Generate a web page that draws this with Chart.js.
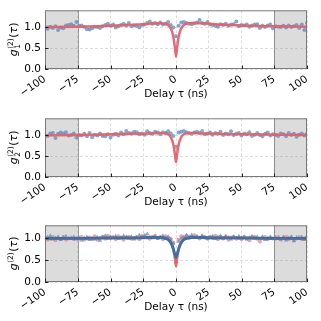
<!DOCTYPE html>
<html>
<head>
<meta charset="utf-8">
<script src="https://cdn.jsdelivr.net/npm/chart.js@4.4.0/dist/chart.umd.min.js"></script>
<style>
  body { margin: 0; background: #fff; }
  .panel { position: absolute; left: 0; width: 321px; }
</style>
</head>
<body>
<div class="panel" style="top:0px;height:107px"><canvas id="c1"></canvas></div>
<div class="panel" style="top:108px;height:107px"><canvas id="c2"></canvas></div>
<div class="panel" style="top:215px;height:105px"><canvas id="c3"></canvas></div>
<script>
// delay axis (ns) for measured points
const tau = [-100,-98,-96,-94,-92,-90,-88,-86,-84,-82,-80,-78,-76,
  -74,-72,-70,-68,-66,-64,-62,-60,-58,-56,-54,-52,-50,
  -48,-46,-44,-42,-40,-38,-36,-34,-32,-30,-28,-26,
  -24,-22,-20,-18,-16,-14,-12,-10,-8,-6,-4,-2,
  0,
  2,4,6,8,10,12,14,16,18,20,22,24,
  26,28,30,32,34,36,38,40,42,44,46,48,
  50,52,54,56,58,60,62,64,66,68,70,72,74,
  76,78,80,82,84,86,88,90,92,94,96,98,100];

// delay axis for the fitted curves
const tauFit = [-100,-75,-50,-30,-20,-12,-8,-6,-4,-3,-2,-1,-0.5,0,0.5,1,2,3,4,6,8,12,20,30,50,75,100];

const g1 = [0.97,0.96,1.01,0.98,1.02,0.93,0.99,0.97,1.04,1.05,1.07,1.03,1.12,
  1.03,1.04,1.0,0.95,0.94,0.97,1.01,1.0,0.98,1.02,1.05,1.08,1.03,
  1.06,0.99,1.02,1.05,1.08,1.04,1.1,1.02,1.04,1.03,0.99,1.05,
  1.06,1.1,1.13,1.08,1.1,1.07,1.11,1.06,1.08,1.12,1.05,0.99,
  0.78,
  1.03,1.11,1.12,1.1,1.08,1.07,1.09,1.11,1.17,1.1,1.08,1.12,
  1.06,1.05,1.03,1.01,1.07,1.05,1.08,1.03,1.06,1.07,1.13,1.02,
  1.05,1.04,1.06,1.01,1.04,1.06,1.07,0.98,1.03,1.0,1.04,1.06,0.97,
  1.02,1.01,1.0,1.03,0.99,1.04,1.0,1.02,1.05,0.98,1.06,0.93,1.1];
const fit1 = [1.0,1.01,1.03,1.06,1.08,1.09,1.08,1.05,0.97,0.89,0.76,0.55,0.42,0.3,0.42,0.55,0.76,0.89,0.97,1.05,1.08,1.1,1.09,1.07,1.04,1.02,1.01];

const g2 = [1.0,0.98,1.04,1.05,0.93,1.03,1.06,1.04,1.07,0.99,1.0,1.04,0.94,
  1.0,0.99,1.03,0.97,1.05,0.95,1.01,0.99,1.04,0.98,0.97,1.02,0.94,
  1.01,1.03,0.99,1.06,1.02,1.1,1.05,1.04,1.08,1.07,1.02,1.04,
  1.01,1.09,1.05,1.03,1.08,1.06,1.02,1.07,1.05,1.09,1.04,0.98,
  0.72,
  1.06,1.08,1.1,1.07,1.05,1.03,1.06,1.08,1.05,1.1,1.02,1.04,
  1.06,1.01,1.05,1.03,1.08,1.0,1.04,1.02,1.09,1.0,1.03,1.05,
  0.99,1.04,1.02,1.07,0.98,1.01,1.05,1.0,0.97,1.03,1.06,0.99,1.02,
  1.01,0.98,1.04,1.02,0.97,1.05,1.0,1.03,0.96,1.01,1.04,0.99,1.03];
const fit2 = [0.99,1.0,1.02,1.03,1.04,1.05,1.04,1.02,0.95,0.88,0.77,0.58,0.46,0.36,0.46,0.58,0.77,0.88,0.95,1.02,1.04,1.05,1.04,1.03,1.02,1.01,1.0];

const g3red = [1.02,0.97,0.99,1.04,0.96,1.01,0.98,1.03,0.97,1.0,1.02,0.98,1.01,
  0.99,1.03,0.97,1.0,1.02,0.98,1.05,0.97,1.01,1.04,0.99,1.06,1.0,
  1.03,0.98,1.05,1.01,0.97,1.02,1.04,0.99,1.01,1.03,0.98,1.05,
  1.07,1.02,0.99,1.04,1.06,1.01,1.03,0.98,1.05,1.02,0.99,0.9,
  0.45,
  0.97,1.05,1.02,1.06,1.01,1.04,1.07,1.03,1.0,1.05,1.02,0.99,
  1.04,1.01,1.06,0.98,1.03,1.0,1.05,0.97,1.02,1.04,0.99,1.01,
  0.98,1.03,1.0,0.96,1.02,1.04,0.99,0.93,1.01,1.03,0.98,1.02,1.0,
  0.99,1.03,0.97,1.01,1.04,0.98,1.02,0.96,1.0,1.03,0.98,1.01,0.99];
const g3blue = [0.99,1.03,1.06,0.98,1.01,1.04,0.97,1.02,1.05,0.99,1.0,1.03,0.98,
  1.02,0.96,1.01,1.03,0.97,1.0,0.98,1.02,0.95,1.03,1.06,1.0,1.04,
  1.01,1.05,0.99,1.02,1.06,1.03,1.0,1.04,0.98,1.02,1.07,1.03,
  1.05,1.1,1.03,1.01,1.04,0.99,1.02,1.06,1.0,1.04,0.97,0.88,
  0.58,
  0.93,1.0,1.03,1.07,1.04,1.08,1.02,1.05,1.01,1.06,1.03,1.0,
  1.02,1.05,0.99,1.03,1.06,1.0,1.04,1.02,0.98,1.03,1.01,1.05,
  1.0,1.03,0.98,1.02,1.05,1.0,1.03,0.99,1.04,0.97,1.01,1.03,0.99,
  1.02,1.0,0.98,1.03,0.96,1.01,1.04,0.94,1.02,0.99,1.03,0.97,1.06];
const fit3red = [1.0,1.0,1.01,1.01,1.02,1.02,1.01,0.98,0.92,0.85,0.74,0.57,0.46,0.36,0.46,0.57,0.74,0.85,0.92,0.98,1.01,1.02,1.02,1.01,1.01,1.0,1.0];
const fit3blue = [1.0,1.0,1.01,1.01,1.02,1.02,1.0,0.97,0.9,0.84,0.76,0.65,0.6,0.56,0.6,0.65,0.76,0.84,0.9,0.97,1.0,1.02,1.02,1.01,1.01,1.0,1.0];

const xTicks = [-100,-75,-50,-25,0,25,50,75,100];
const yTicks = [0,0.5,1.0];

const RED = 'rgba(228,98,108,0.95)';
const RED_PT = 'rgba(240,130,135,0.75)';
const BLUE_PT = 'rgba(90,140,190,0.75)';
const BLUE_LINE = 'rgb(62,112,160)';

Chart.defaults.font.family = 'DejaVu Sans';
Chart.defaults.font.size = 10;
Chart.defaults.color = '#000';

function pts(xs, ys) {
  return xs.map((x, i) => ({x: x, y: ys[i]}));
}

// shaded windows, frame and inward ticks
const decor = {
  id: 'decor',
  beforeDatasetsDraw(chart) {
    const {ctx, chartArea: a, scales: {x}} = chart;
    ctx.save();
    ctx.fillStyle = 'rgba(140,140,140,0.3)';
    const l1 = x.getPixelForValue(-100), r1 = x.getPixelForValue(-75);
    const l2 = x.getPixelForValue(75), r2 = x.getPixelForValue(100);
    ctx.fillRect(l1, a.top, r1 - l1, a.bottom - a.top);
    ctx.fillRect(l2, a.top, r2 - l2, a.bottom - a.top);
    ctx.strokeStyle = 'rgba(110,110,110,0.7)';
    ctx.lineWidth = 1;
    ctx.beginPath();
    ctx.moveTo(Math.round(r1) + 0.5, a.top); ctx.lineTo(Math.round(r1) + 0.5, a.bottom);
    ctx.moveTo(Math.round(l2) + 0.5, a.top); ctx.lineTo(Math.round(l2) + 0.5, a.bottom);
    ctx.stroke();
    ctx.restore();
  },
  afterDraw(chart, args, opts) {
    const {ctx, chartArea: a, scales: {x, y}} = chart;
    ctx.save();
    ctx.strokeStyle = '#7a7a7a';
    ctx.lineWidth = 1;
    ctx.strokeRect(a.left + 0.5, a.top + 0.5, a.right - a.left - 1, a.bottom - a.top - 1);
    ctx.strokeStyle = '#222';
    ctx.beginPath();
    xTicks.forEach(v => {
      const px = Math.round(x.getPixelForValue(v)) + 0.5;
      ctx.moveTo(px, a.bottom); ctx.lineTo(px, a.bottom - 3.5);
    });
    yTicks.forEach(v => {
      const py = Math.round(y.getPixelForValue(v)) + 0.5;
      ctx.moveTo(a.left, py); ctx.lineTo(a.left + 3.5, py);
    });
    ctx.stroke();

    // y label: g^(2)_n(tau)
    const cy = (a.top + a.bottom) / 2;
    ctx.translate(17, cy);
    ctx.rotate(-Math.PI / 2);
    ctx.fillStyle = '#000';
    ctx.textBaseline = 'alphabetic';
    const big = 'italic 11px DejaVu Sans', small = '7.5px DejaVu Sans';
    ctx.font = big; const wg = ctx.measureText('g').width;
    ctx.font = small; const wsup = ctx.measureText('(2)').width;
    const wsub = opts.sub ? ctx.measureText(opts.sub).width : 0;
    const wmid = Math.max(wsup, wsub) + 0.5;
    ctx.font = '11px DejaVu Sans'; const wp = ctx.measureText('()').width;
    ctx.font = 'italic 11px DejaVu Sans'; const wt = ctx.measureText('τ').width;
    let px = -(wg + wmid + wp + wt) / 2;
    ctx.font = big; ctx.fillText('g', px, 0); px += wg + 0.5;
    ctx.font = small; ctx.fillText('(2)', px, -4.5);
    if (opts.sub) ctx.fillText(opts.sub, px, 3);
    px += wmid;
    ctx.font = '11px DejaVu Sans';
    ctx.fillText('(', px, 0); px += ctx.measureText('(').width;
    ctx.font = 'italic 11px DejaVu Sans';
    ctx.fillText('τ', px, 0); px += wt;
    ctx.font = '11px DejaVu Sans';
    ctx.fillText(')', px, 0);
    ctx.restore();
  }
};

function makePanel(id, datasets, ymax, sub) {
  new Chart(document.getElementById(id), {
    type: 'scatter',
    data: {datasets: datasets},
    options: {
      animation: false,
      responsive: true,
      maintainAspectRatio: false,
      layout: {padding: {top: 4, right: 14, left: 0, bottom: 0}},
      plugins: {legend: {display: false}, tooltip: {enabled: false}, decor: {sub: sub}},
      scales: {
        x: {
          type: 'linear', min: -100, max: 100,
          afterBuildTicks: s => { s.ticks = xTicks.map(v => ({value: v})); },
          afterFit: s => { s.height = 38; },
          ticks: {padding: 4, font: {size: 10.5}, callback: v => String(v).replace('-', '\u2212')},
          grid: {color: '#d6d6d6', lineWidth: 0.8, drawTicks: false},
          border: {display: false, dash: [3, 2]},
          title: {display: true, text: 'Delay τ (ns)', font: {size: 10.5}, padding: {top: 0, bottom: 6}}
        },
        y: {
          min: 0, max: ymax,
          afterBuildTicks: s => { s.ticks = yTicks.map(v => ({value: v})); },
          afterFit: s => { s.width = 45; },
          ticks: {padding: 4, font: {size: 10.5}, callback: v => v.toFixed(1)},
          grid: {color: '#d6d6d6', lineWidth: 0.8, drawTicks: false},
          border: {display: false, dash: [3, 2]}
        }
      }
    },
    plugins: [decor]
  });
}

function fitLine(xs, ys, color, width) {
  return {data: pts(xs, ys), showLine: true, borderColor: color, borderWidth: width,
    pointRadius: 0, cubicInterpolationMode: 'monotone', fill: false};
}
function dots(xs, ys, color, style) {
  return {data: pts(xs, ys), backgroundColor: color, borderWidth: 0,
    pointStyle: style, pointRadius: style === 'triangle' ? 2.5 : 2.0};
}

makePanel('c1', [
  fitLine(tauFit, fit1, RED, 2.5),
  dots(tau, g1, BLUE_PT, 'circle')
], 1.4, '1');

makePanel('c2', [
  fitLine(tauFit, fit2, RED, 2.5),
  dots(tau, g2, BLUE_PT, 'circle')
], 1.4, '2');

makePanel('c3', [
  fitLine(tauFit, fit3blue, BLUE_LINE, 2.8),
  fitLine(tauFit, fit3red, RED, 2.5),
  dots(tau, g3blue, BLUE_PT, 'triangle'),
  dots(tau, g3red, RED_PT, 'circle')
], 1.3, '');
</script>
</body>
</html>
